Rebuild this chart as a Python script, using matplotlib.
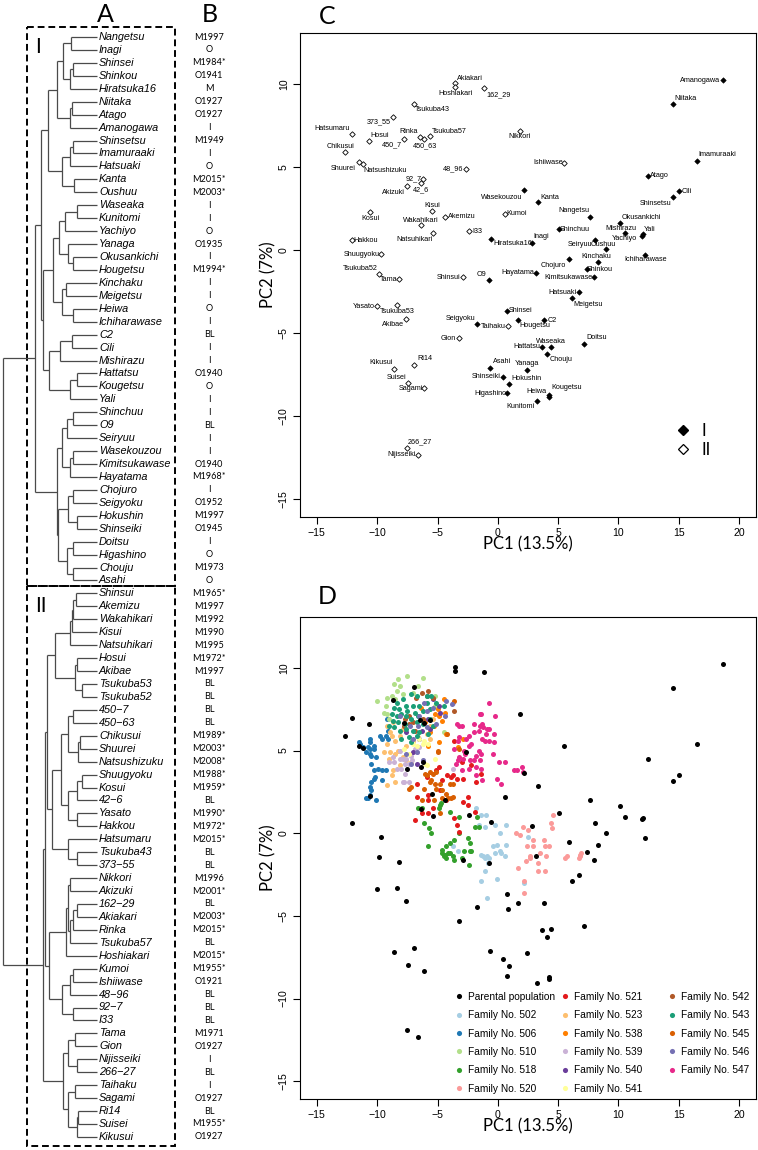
import matplotlib
matplotlib.use('Agg')
import matplotlib.pyplot as plt
from matplotlib.lines import Line2D
from matplotlib.patches import Rectangle
from matplotlib.legend import Legend

W, H = 758, 1150
fig = plt.figure(figsize=(W / 100, H / 100), dpi=100)

# ---------------- data ----------------
cultivars = [
    'Nangetsu', 'Inagi', 'Shinsei', 'Shinkou', 'Hiratsuka16', 'Niitaka', 'Atago', 'Amanogawa',
    'Shinsetsu', 'Imamuraaki', 'Hatsuaki', 'Kanta', 'Oushuu', 'Waseaka', 'Kunitomi', 'Yachiyo',
    'Yanaga', 'Okusankichi', 'Hougetsu', 'Kinchaku', 'Meigetsu', 'Heiwa', 'Ichiharawase', 'C2',
    'Cili', 'Mishirazu', 'Hattatsu', 'Kougetsu', 'Yali', 'Shinchuu', 'O9', 'Seiryuu',
    'Wasekouzou', 'Kimitsukawase', 'Hayatama', 'Chojuro', 'Seigyoku', 'Hokushin', 'Shinseiki',
    'Doitsu', 'Higashino', 'Chouju', 'Asahi',
    'Shinsui', 'Akemizu', 'Wakahikari', 'Kisui', 'Natsuhikari', 'Hosui', 'Akibae', 'Tsukuba53',
    'Tsukuba52', '450-7', '450-63', 'Chikusui', 'Shuurei', 'Natsushizuku', 'Shuugyoku', 'Kosui',
    '42-6', 'Yasato', 'Hakkou', 'Hatsumaru', 'Tsukuba43', '373-55', 'Nikkori', 'Akizuki',
    '162-29', 'Akiakari', 'Rinka', 'Tsukuba57', 'Hoshiakari', 'Kumoi', 'Ishiiwase', '48-96',
    '92-7', 'I33', 'Tama', 'Gion', 'Nijisseiki', '266-27', 'Taihaku', 'Sagami', 'Ri14',
    'Suisei', 'Kikusui']

origin_codes = [
    'M1997', 'O', 'M1984*', 'O1941', 'M', 'O1927', 'O1927', 'I', 'M1949', 'I', 'O', 'M2015*',
    'M2003*', 'I', 'I', 'O', 'O1935', 'I', 'M1994*', 'I', 'I', 'O', 'I', 'BL', 'I', 'I',
    'O1940', 'O', 'I', 'I', 'BL', 'I', 'I', 'O1940', 'M1968*', 'I', 'O1952', 'M1997', 'O1945',
    'I', 'O', 'M1973', 'O',
    'M1965*', 'M1997', 'M1992', 'M1990', 'M1995', 'M1972*', 'M1997', 'BL', 'BL', 'BL', 'BL',
    'M1989*', 'M2003*', 'M2008*', 'M1988*', 'M1959*', 'BL', 'M1990*', 'M1972*', 'M2015*',
    'BL', 'BL', 'M1996', 'M2001*', 'BL', 'M2003*', 'M2015*', 'BL', 'M2015*', 'M1955*',
    'O1921', 'BL', 'BL', 'BL', 'M1971', 'O1927', 'I', 'BL', 'I', 'O1927', 'BL', 'M1955*',
    'O1927']

cluster = ['I'] * 43 + ['II'] * 43

pc1 = [7.68, 2.87, 0.75, 7.35, -0.55, 14.48, 12.41, 18.68, 14.54, 16.50, 6.72, 3.37, 8.93,
       4.37, 3.21, 11.97, 2.38, 10.12, 1.63, 8.32, 6.14, 4.20, 12.24, 3.81, 14.98, 10.53,
       3.65, 4.26, 12.05, 5.06, -0.77, 8.02, 2.16, 7.96, 3.15, 5.86, -1.74, 0.94, 0.44,
       7.16, 0.77, 4.09, -0.66,
       -2.87, -4.34, -6.36, -5.47, -5.36, -10.72, -7.63, -8.32, -9.84, -7.80, -6.08, -12.66,
       -11.55, -11.19, -9.65, -10.59, -6.41, -10.00, -12.10, -12.13, -6.97, -8.73, 1.82,
       -7.57, -1.13, -3.54, -6.47, -5.64, -3.54, 0.58, 5.50, -2.68, -6.19, -2.38, -8.18,
       -3.20, -6.63, -7.57, 0.86, -6.14, -6.91, -7.41, -8.62]
pc2 = [2.02, 0.44, -3.65, -1.15, 0.69, 8.79, 4.48, 10.24, 3.17, 5.39, -2.54, 2.87, 0.04,
       -5.81, -9.09, 0.85, -7.22, 1.66, -4.23, -0.71, -2.90, -8.71, -0.28, -4.23, 3.54, 1.01,
       -5.83, -8.83, 0.95, 1.25, -1.79, 0.61, 3.62, -1.65, -1.35, -0.55, -4.48, -8.06, -7.62,
       -5.63, -8.61, -6.27, -7.10,
       -1.65, 2.00, 1.49, 2.38, 1.05, 6.60, -4.13, -3.33, -1.45, 6.69, 6.67, 5.90, 5.29, 5.17,
       -0.24, 2.28, 4.02, -3.39, 0.60, 6.97, 8.83, 8.04, 7.19, 3.88, 9.74, 10.06, 6.83, 6.87,
       9.80, 2.18, 5.25, 4.89, 4.30, 1.13, -1.75, -5.32, -12.32, -11.90, -4.60, -8.33, -6.92,
       -8.00, -7.16]


def N(h, *kids):
    return (h, kids)


# dendrogram (node heights, leaves at 0)
clade_I = N(62,
            N(56,
              N(49,
                N(40,
                  N(34, N(26, 'Nangetsu', 'Inagi'),
                    N(27, N(24, 'Shinsei', 'Shinkou'), 'Hiratsuka16')),
                  N(27, N(25, 'Niitaka', 'Atago'), 'Amanogawa')),
                N(35, N(27, N(24, 'Shinsetsu', 'Imamuraaki'), 'Hatsuaki'),
                  N(23, 'Kanta', 'Oushuu'))),
              N(54,
                N(44,
                  N(38, N(32, N(20, 'Waseaka', 'Kunitomi'), 'Yachiyo'),
                    N(29, 'Yanaga', N(24, 'Okusankichi', 'Hougetsu'))),
                  N(35, N(31, 'Kinchaku', 'Meigetsu'), N(24, 'Heiwa', 'Ichiharawase'))),
                N(48, N(37, N(25, 'C2', 'Cili'), 'Mishirazu'),
                  N(27, N(20, 'Hattatsu', 'Kougetsu'), 'Yali')))),
            N(40,
              N(35, N(30, N(24, 'Shinchuu', 'O9'), 'Seiryuu'),
                N(27, N(24, 'Wasekouzou', 'Kimitsukawase'), 'Hayatama')),
              N(39, N(29, N(24, 'Chojuro', 'Seigyoku'), N(20, 'Hokushin', 'Shinseiki')),
                N(30, N(24, 'Doitsu', 'Higashino'), N(24, 'Chouju', 'Asahi')))))

clade_II = N(54,
             N(52,
               N(50,
                 N(42,
                   N(27, N(25, N(24, N(21, 'Shinsui', 'Akemizu'), 'Wakahikari'), 'Kisui'),
                     'Natsuhikari'),
                   N(22, N(20, 'Hosui', 'Akibae'), N(15, 'Tsukuba53', 'Tsukuba52'))),
                 N(45,
                   N(36,
                     N(29, N(24, '450-7', '450-63'),
                       N(19, N(17, 'Chikusui', 'Shuurei'), 'Natsushizuku')),
                     N(29, N(20, N(15, 'Shuugyoku', 'Kosui'), '42-6'),
                       N(20, 'Yasato', 'Hakkou'))),
                   N(29, 'Hatsumaru', N(20, 'Tsukuba43', '373-55')))),
               N(48,
                 N(31,
                   N(29, N(27, 'Nikkori', 'Akizuki'),
                     N(27, N(24, N(20, '162-29', 'Akiakari'), 'Rinka'), 'Tsukuba57')),
                   'Hoshiakari'),
                 N(35, N(27, N(24, 'Kumoi', 'Ishiiwase'), '48-96'), N(24, '92-7', 'I33')))),
             N(34,
               N(29, N(22, 'Tama', 'Gion'), N(20, 'Nijisseiki', '266-27')),
               N(29, N(22, 'Taihaku', 'Sagami'), N(20, N(19, 'Ri14', 'Suisei'), 'Kikusui'))))

tree = N(94, clade_I, clade_II)

# families (PC1, PC2)
fam502 = [(-1.8, 1.5), (-1.4, 1.1), (-1.0, 1.1), (-1.6, 0.5), (-1.1, 0.4), (-0.2, 0.5), (0.7, 0.5),
          (0.2, 0.0), (-0.4, -0.8), (-0.1, -0.7), (0.7, -0.7), (0.2, -1.1), (-0.2, -1.2),
          (0.6, -1.4), (-1.4, -1.3), (-0.9, -1.4), (-3.7, -0.8), (-3.3, -1.1), (2.5, -0.2),
          (-1.05, -1.5), (-0.7, -1.5), (0.3, -1.2), (-1.05, -2.3), (-1.4, -2.9), (-0.05, -2.8),
          (-0.9, -3.9), (-0.8, -1.8), (2.2, -3.0), (-1.2, -1.4)]
fam506 = [(-11.5, 5.5), (-11.4, 5.4), (-11.2, 5.2), (-10.8, 5.2), (-10.9, 4.9), (-10.6, 5.5),
          (-10.6, 5.1), (-10.3, 5.1), (-10.3, 5.3), (-9.8, 5.9), (-9.6, 5.7), (-9.3, 5.9),
          (-9.1, 5.7), (-10.6, 4.8), (-10.5, 4.7), (-10.1, 4.6), (-10.5, 4.2), (-10.3, 3.8),
          (-9.9, 3.9), (-9.6, 3.8), (-9.3, 3.8), (-10.2, 3.4), (-10.3, 3.3), (-10.5, 3.1),
          (-10.6, 2.8), (-10.5, 2.6), (-10.6, 2.3), (-10.9, 2.1), (-10.8, 2.1), (-10.1, 2.0),
          (-9.6, 3.2), (-10.6, 5.7), (-9.2, 6.9), (-9.1, 6.2)]
fam510 = [(-8.3, 9.3), (-7.5, 9.5), (-6.2, 9.4), (-8.6, 9.0), (-6.6, 8.9), (-8.4, 8.6), (-9.2, 8.2),
          (-10.0, 8.0), (-9.3, 7.7), (-9.2, 7.2), (-9.4, 7.3), (-8.8, 8.3), (-7.9, 8.4), (-7.0, 8.5),
          (-5.2, 8.3), (-9.0, 6.9), (-4.5, 6.1), (-5.2, 7.7), (-8.5, 8.1), (-8.1, 8.9)]
fam518 = [(-6.6, 1.5), (-6.3, 1.5), (-6.1, 0.6), (-5.7, 0.3), (-5.5, 0.0), (-5.8, -0.8), (-4.8, 1.7),
          (-4.7, 1.8), (-4.0, 1.3), (-3.2, 1.0), (-3.2, 0.0), (-3.6, -0.4), (-4.0, -0.6), (-4.6, -1.0),
          (-4.3, -0.8), (-4.4, -1.3), (-4.1, -1.2), (-4.3, -1.5), (-2.5, -0.3), (-2.3, -0.6),
          (-2.8, -1.1), (-2.3, -1.1), (-1.9, 0.4), (-1.6, 0.4), (-1.7, 1.0), (-3.7, -1.4),
          (-4.45, -1.4), (-4.0, -1.2), (-3.6, -1.6), (-3.0, -1.5), (-2.4, -1.9), (-2.2, -1.1),
          (-4.6, -1.2), (-4.9, 1.5)]
fam520 = [(1.5, 0.0), (2.1, 0.4), (2.5, 0.2), (4.6, 1.1), (4.4, 0.6), (4.5, 0.3), (3.8, -0.4),
          (3.9, -0.8), (4.2, -0.8), (2.9, -0.4), (2.4, -0.8), (2.9, -0.8), (1.8, -0.1), (5.7, -1.4),
          (6.8, -1.4), (6.9, -1.2), (3.5, -1.2), (2.7, -1.4), (1.7, -2.1), (2.3, -1.7), (2.7, -1.5),
          (3.3, -1.8), (3.3, -2.3), (3.9, -2.3), (2.2, -2.9), (2.2, -3.6), (5.6, -1.5), (6.7, -1.5),
          (6.8, -1.3), (4.0, -1.4)]
fam521 = [(-3.0, 4.3), (-2.7, 4.9), (-4.2, 3.5), (-3.9, 3.4), (-3.7, 3.5), (-3.4, 3.3), (-4.6, 3.2),
          (-5.1, 3.8), (-4.8, 2.6), (-5.8, 2.0), (-5.4, 1.5), (-5.8, 1.2), (-6.3, 1.2), (-6.9, 0.8),
          (-4.3, 2.0), (-3.6, 0.9), (-2.5, 2.2), (-2.5, 1.7), (-1.9, 1.3), (-3.4, 0.5), (-3.2, 0.1),
          (-1.8, 3.1), (-2.9, 3.3), (-5.9, 3.4), (-6.7, 2.2), (-2.9, 1.9), (-1.4, 3.6), (-6.7, 3.0),
          (-4.9, 4.0), (-5.8, 2.3), (-3.6, 5.6), (-2.2, 4.1)]
fam523 = [(-9.2, 6.5), (-8.8, 5.9), (-9.2, 5.4), (-9.4, 4.9), (-8.9, 4.9), (-8.5, 4.8), (-8.3, 5.0),
          (-9.0, 4.5), (-8.7, 3.8), (-8.8, 3.5), (-9.2, 2.9), (-8.5, 3.1), (-8.1, 4.1), (-7.9, 4.6),
          (-7.6, 4.4), (-7.2, 4.3), (-7.6, 5.3), (-8.5, 5.6), (-7.0, 5.6), (-8.7, 6.7), (-8.1, 5.9),
          (-6.6, 5.8), (-5.9, 6.0), (-5.6, 5.7), (-5.6, 6.5), (-5.4, 6.9), (-8.9, 6.1), (-7.9, 6.3)]
fam538 = [(-4.5, 8.1), (-4.9, 7.1), (-5.0, 7.5), (-5.6, 6.1), (-2.9, 5.7), (-4.9, 5.5), (-5.2, 7.2),
          (-4.3, 6.0), (-6.0, 6.7), (-5.3, 6.5), (-4.6, 6.8), (-5.8, 5.3), (-4.4, 7.3), (-6.4, 7.6),
          (-3.3, 5.2)]
fam539 = [(-9.0, 4.3), (-8.6, 4.3), (-8.1, 4.5), (-7.9, 4.5), (-7.7, 4.2), (-7.4, 4.2), (-8.4, 3.9),
          (-8.0, 3.9), (-7.7, 3.6), (-7.9, 3.1), (-7.8, 3.1), (-7.4, 3.1), (-7.6, 4.5), (-7.2, 4.7),
          (-6.9, 5.1), (-6.7, 4.9), (-6.5, 5.2), (-3.7, 3.9), (-3.7, 7.9), (-7.1, 4.4), (-8.1, 5.0),
          (-8.7, 4.6)]
fam540 = [(-4.8, 7.3), (-5.4, 8.1), (-6.5, 5.7), (-7.0, 4.9), (-6.3, 6.2), (-5.6, 6.3), (-5.8, 6.9),
          (-4.9, 7.7), (-6.7, 4.2), (-7.6, 6.1)]
fam541 = [(-6.5, 5.7), (-6.1, 5.6), (-5.8, 5.4), (-6.2, 5.4), (-7.0, 5.4), (-6.7, 5.3), (-6.0, 4.2),
          (-5.9, 4.1), (-5.2, 4.5), (-7.4, 4.8), (-7.1, 5.5), (-7.8, 5.1)]
fam542 = [(-5.8, 8.6), (-6.3, 8.5), (-6.8, 8.2), (-5.4, 8.2), (-7.4, 7.1), (-6.2, 6.9), (-7.4, 6.6),
          (-7.0, 6.7), (-6.9, 6.2), (-7.8, 6.5), (-3.6, 7.4), (-7.7, 6.9), (-5.9, 8.3)]
fam543 = [(-7.2, 8.4), (-6.7, 8.3), (-8.4, 7.9), (-7.9, 8.1), (-5.9, 8.3), (-5.5, 8.3), (-8.6, 7.6),
          (-8.2, 7.5), (-7.6, 7.7), (-7.0, 7.7), (-6.5, 7.7), (-5.9, 7.9), (-8.8, 7.2), (-8.4, 7.1),
          (-8.0, 7.2), (-7.5, 7.4), (-6.9, 7.3), (-6.2, 7.4), (-5.6, 7.5), (-8.7, 6.8), (-8.3, 6.7),
          (-7.7, 6.6), (-7.2, 6.9), (-6.7, 6.7), (-6.2, 6.6), (-5.6, 6.9), (-8.6, 6.4), (-8.1, 6.2),
          (-7.6, 6.3), (-7.0, 6.2), (-6.5, 6.1), (-5.8, 6.0), (-8.0, 5.7), (-7.4, 5.8), (-6.7, 5.9),
          (-7.2, 5.5), (-7.6, 7.1), (-6.6, 7.1), (-9.0, 6.5), (-5.1, 7.9), (-4.5, 7.7), (-5.4, 6.5)]
fam545 = [(-4.2, 6.0), (-5.0, 4.9), (-5.6, 3.7), (-5.4, 3.6), (-5.1, 3.7), (-5.9, 3.5), (-5.6, 3.1),
          (-5.2, 3.0), (-4.8, 3.0), (-4.6, 2.6), (-4.3, 2.4), (-3.9, 2.1), (-3.7, 2.2), (-4.6, 2.1),
          (-5.1, 2.7), (-6.1, 2.7), (-6.3, 2.0), (-5.3, 2.0), (-4.8, 1.2), (-6.0, 3.6), (-5.5, 3.2),
          (-3.7, 3.0), (-4.0, 3.0), (-4.1, 2.1), (-7.2, 2.8), (-7.4, 2.7), (-5.0, 5.0), (-3.6, 8.0),
          (-3.2, 5.1)]
fam546 = [(-4.3, 8.0), (-3.8, 7.8), (-5.4, 7.6), (-5.9, 7.4), (-6.5, 7.1), (-6.6, 6.5), (-7.0, 5.7),
          (-6.1, 7.9), (-5.1, 6.6), (-6.7, 4.9), (-7.6, 4.8), (-5.9, 6.4), (-7.3, 6.5), (-8.1, 7.1),
          (-6.2, 4.4), (-7.2, 4.2), (-4.4, 7.1)]
fam547 = [(-0.7, 7.9), (-0.2, 7.1), (-1.5, 7.2), (-1.4, 7.2), (-3.4, 6.6), (-3.2, 6.5), (-3.0, 6.5),
          (-2.0, 6.6), (-1.5, 6.5), (-1.2, 6.4), (-0.9, 6.3), (-0.3, 6.0), (-0.7, 6.3), (-1.6, 6.2),
          (-2.0, 6.1), (-2.4, 5.9), (-3.2, 5.8), (-3.3, 5.6), (-0.3, 5.5), (-0.7, 5.6), (-1.1, 5.6),
          (-1.3, 5.7), (-2.4, 5.3), (-2.2, 5.4), (-1.6, 5.0), (-1.4, 4.8), (-1.8, 4.7), (-2.7, 4.8),
          (-3.2, 4.6), (-3.3, 4.4), (-2.9, 4.5), (-2.3, 4.4), (-2.0, 4.4), (-1.5, 4.4), (-0.4, 4.8),
          (0.1, 4.3), (0.6, 4.3), (1.3, 3.8), (1.6, 3.8), (2.0, 4.0), (2.1, 3.7), (-1.8, 4.0),
          (-1.4, 3.9), (-2.4, 3.9), (-3.0, 3.8), (-1.8, 3.5), (-1.3, 3.2), (-0.1, 3.3), (0.3, 3.0),
          (-1.3, 6.6), (-1.0, 6.0), (-2.8, 5.0), (-2.6, 5.7), (-3.6, 5.1), (-3.5, 4.2)]

family_ids = ['502', '506', '510', '518', '520', '521', '523', '538', '539', '540', '541',
              '542', '543', '545', '546', '547']
family_points = [fam502, fam506, fam510, fam518, fam520, fam521, fam523, fam538, fam539,
                 fam540, fam541, fam542, fam543, fam545, fam546, fam547]
family_colors = ['#a6cee3', '#1f78b4', '#b2df8a', '#33a02c', '#fb9a99', '#e31a1c', '#fdbf6f',
                 '#ff7f00', '#cab2d6', '#6a3d9a', '#ffff99', '#b15928', '#1b9e77', '#d95f02',
                 '#7570b3', '#e7298a']

# label offsets (pixels) for panel C
label_off = [(-17, 6), (9, 6), (14, 0), (13, 0), (22, -5), (13, 6), (12, 0), (-23, 0), (-18, -6),
             (20, 6), (-16, 0), (11, 5), (-2, 5), (0, 5), (-16, -6), (-18, -3), (0, 6), (21, 5),
             (17, -5), (-2, 5), (16, -6), (-12, 3), (0, -5), (8, 0), (8, 0), (-4, 5), (-15, 0),
             (17, 9), (6, 5), (16, 0), (-7, 5), (-15, -5), (-22, -7), (-25, 0), (-18, 0),
             (-15, -6), (-16, 6), (17, 5), (-17, 0), (12, 6), (-17, 0), (14, -5), (12, 6),
             (-15, 0), (16, 0), (0, 5), (0, 5), (-19, -7), (11, 5), (-13, -6), (0, -6), (-19, 6),
             (-12, -6), (1, -6), (-5, 6), (-15, -6), (22, -6), (-20, 0), (0, -6), (0, -6),
             (-13, 0), (14, 0), (-19, 6), (19, -6), (-14, -5), (0, -6), (-13, -7), (14, -6),
             (15, 5), (-11, 5), (19, 5), (0, -6), (12, 0), (-16, 0), (-12, 0), (-9, 0), (8, 0),
             (-11, 0), (-11, 0), (-16, 0), (13, 6), (-15, 0), (-13, 0), (10, 6), (-12, 5),
             (-13, 6)]

# ---------------- panel A / B (pixel coordinate overlay) ----------------
ax0 = fig.add_axes([0, 0, 1, 1])
ax0.set_xlim(0, W)
ax0.set_ylim(H, 0)
ax0.axis('off')

LEAF_X = 97
Y0, DY = 37, 12.94
leaf_y = {name: Y0 + DY * i for i, name in enumerate(cultivars)}
line_kw = dict(color='#4a4a4a', lw=0.9, solid_capstyle='butt')


def draw(node):
    if isinstance(node, str):
        return LEAF_X, leaf_y[node]
    h, kids = node
    pts = [draw(k) for k in kids]
    x = LEAF_X - h
    ys = [p[1] for p in pts]
    ax0.plot([x, x], [min(ys), max(ys)], **line_kw)
    for cx, cy in pts:
        ax0.plot([x, cx], [cy, cy], **line_kw)
    return x, sum(ys) / len(ys)


draw(tree)

for name, code in zip(cultivars, origin_codes):
    y = leaf_y[name]
    ax0.text(99, y, name.replace('-', '\u2212'), style='italic', fontsize=7.8,
             family='Liberation Sans', ha='left', va='center')
    ax0.text(209, y, code, fontsize=6.6, family='Lato', ha='center', va='center')

box_kw = dict(fill=False, lw=1.4, ls=(0, (3.5, 2)), ec='black')
ax0.add_patch(Rectangle((27, 27), 148, 559, **box_kw))
ax0.add_patch(Rectangle((27, 586), 148, 560, **box_kw))
ax0.text(38, 47, 'I', fontsize=15, family='Lato', ha='center', va='center')
ax0.text(41, 606, 'II', fontsize=15, family='Lato', ha='center', va='center')

for lab, x, y in [('A', 105, 14), ('B', 210, 14), ('C', 327, 17), ('D', 327, 596)]:
    ax0.text(x, y, lab, fontsize=18, family='Lato', ha='center', va='center')


# ---------------- panels C and D ----------------
def setup(ax):
    ax.set_xlim(-16.4, 21.4)
    ax.set_ylim(-16.08, 13.08)
    ax.set_xticks(range(-15, 21, 5))
    ax.set_yticks(range(-15, 11, 5))
    ax.tick_params(direction='out', length=5, width=0.8, labelsize=7.6, pad=3)
    for lab in ax.get_xticklabels() + ax.get_yticklabels():
        lab.set_family('Liberation Sans')
    for lab in ax.get_yticklabels():
        lab.set_rotation(90)
        lab.set_va('center')
    for s in ax.spines.values():
        s.set_linewidth(0.8)


axC = fig.add_axes([300 / W, 1 - 517 / H, 456 / W, 484 / H])
setup(axC)
xI = [x for x, g in zip(pc1, cluster) if g == 'I']
yI = [y for y, g in zip(pc2, cluster) if g == 'I']
xII = [x for x, g in zip(pc1, cluster) if g == 'II']
yII = [y for y, g in zip(pc2, cluster) if g == 'II']
axC.plot(xI, yI, 'D', ms=2.8, mfc='black', mec='black', mew=0.4, ls='none')
axC.plot(xII, yII, 'D', ms=2.8, mfc='white', mec='black', mew=0.6, ls='none')
for name, x, y, (dx, dy) in zip(cultivars, pc1, pc2, label_off):
    axC.annotate(name.replace('-', '_'), (x, y), xytext=(dx, dy), textcoords='offset pixels',
                 ha='center', va='center', fontsize=5.2, family='Liberation Sans')
hC = [Line2D([], [], marker='D', ls='none', ms=5.2, mfc='black', mec='black'),
      Line2D([], [], marker='D', ls='none', ms=5.2, mfc='white', mec='black', mew=0.9)]
legC = axC.legend(hC, ['I', 'II'], loc='center left', bbox_to_anchor=(0.807, 0.158),
                  frameon=False, fontsize=12, handlelength=1.0, handletextpad=0.6,
                  labelspacing=0.15, borderaxespad=0)
for t in legC.get_texts():
    t.set_family('Lato')

axD = fig.add_axes([300 / W, 1 - 1099 / H, 456 / W, 482 / H])
setup(axD)
handles = [Line2D([], [], marker='o', ls='none', ms=3.7, mfc='black', mec='none')]
labels = ['Parental population']
for fid, pts, col in zip(family_ids, family_points, family_colors):
    axD.scatter([p[0] for p in pts], [p[1] for p in pts], s=13, c=col, linewidths=0, zorder=2)
    handles.append(Line2D([], [], marker='o', ls='none', ms=3.7, mfc=col, mec='none'))
    labels.append('Family No. ' + fid)
axD.scatter(pc1, pc2, s=13, c='black', linewidths=0, zorder=3)

# three equal-width legend columns (6, 6, 5 entries)
col_left_px = [455, 561, 668]
splits = [(0, 6), (6, 12), (12, 17)]
for (a, b), lx in zip(splits, col_left_px):
    leg = Legend(axD, handles[a:b], labels[a:b], loc='upper left',
                 bbox_to_anchor=((lx - 300) / 456, (1099 - 992) / 482),
                 frameon=False, fontsize=7.3, handlelength=0.8, handletextpad=0.45,
                 labelspacing=0.82, borderaxespad=0, borderpad=0)
    for t in leg.get_texts():
        t.set_family('Liberation Sans')
    axD.add_artist(leg)

# axis labels
for ytop, ybot in [(33, 517), (617, 1099)]:
    fig.text(528 / W, 1 - (ybot + 27) / H, 'PC1 (13.5%)', fontsize=12, family='Lato',
             ha='center', va='center')
    fig.text(268 / W, 1 - ((ytop + ybot) / 2) / H, 'PC2 (7%)', fontsize=12, family='Lato',
             ha='center', va='center', rotation=90)

fig.savefig('out.png', dpi=100)
